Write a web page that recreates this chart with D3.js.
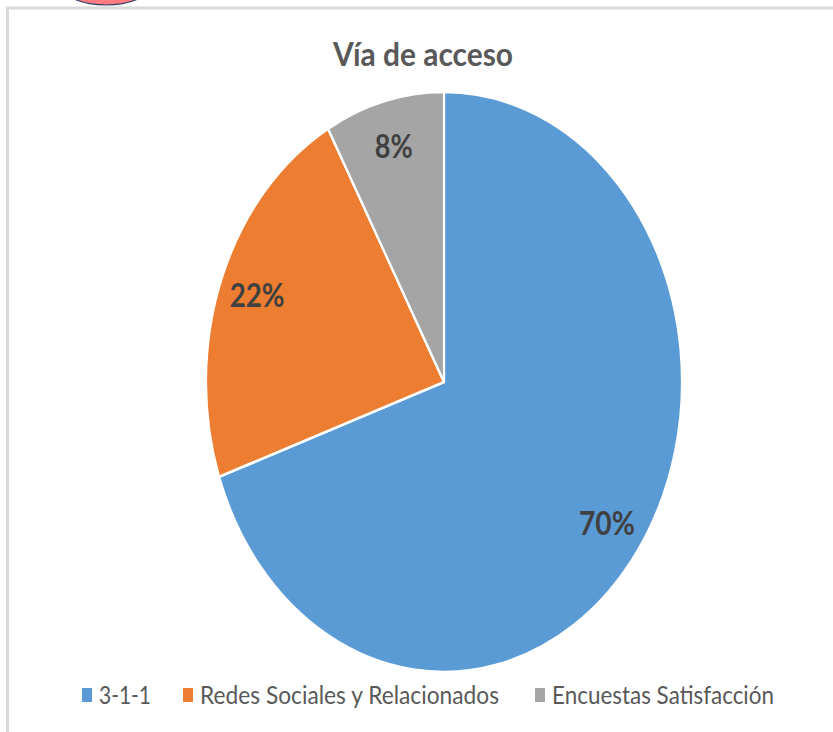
<!DOCTYPE html>
<html><head><meta charset="utf-8">
<script src="https://cdn.jsdelivr.net/npm/d3@7"></script>
<style>html,body{margin:0;padding:0;background:#fff;overflow:hidden}</style>
</head><body>
<svg id="c" width="833" height="732"></svg>
<script>
const title = "Vía de acceso";
const categories = ["3-1-1", "Redes Sociales y Relacionados", "Encuestas Satisfacción"];
const values = [69.7, 22.2, 8.1];
const labels = ["70%", "22%", "8%"];
const colors = ["#5B9BD5", "#ED7D31", "#A5A5A5"];

const W = 833, H = 732;
const k = 290 / 238; // vertical stretch of the picture
const FONT = "Lato, 'Open Sans', 'Liberation Sans', sans-serif";
const svg = d3.select("#c");

svg.append("rect").attr("x", 0).attr("y", 0).attr("width", W).attr("height", H).attr("fill", "#fff");
// chart area border (extends off right/bottom)
svg.append("rect").attr("x", 7.5).attr("y", 8).attr("width", W + 20).attr("height", H + 20)
  .attr("fill", "#fff").attr("stroke", "#D9D9D9").attr("stroke-width", 3);
// partial red shape at top
svg.append("ellipse").attr("cx", 106).attr("cy", -20).attr("rx", 49).attr("ry", 25)
  .attr("fill", "#FF7C80").attr("stroke", "#2E3F66").attr("stroke-width", 1.2);

// title
svg.append("text").attr("transform", `translate(423,66) scale(1,${k * 1.04})`)
  .attr("text-anchor", "middle").attr("font-family", FONT).attr("font-weight", "bold")
  .attr("font-size", 26).attr("fill", "#595959")
  .attr("textLength", 180).attr("lengthAdjust", "spacingAndGlyphs").text(title);

// pie
const R = 238;
const g = svg.append("g").attr("transform", `translate(444,382) scale(1,${k})`);
const pie = d3.pie().sort(null).value(d => d)(values);
const arc = d3.arc().innerRadius(0).outerRadius(R);
g.selectAll("path").data(pie).join("path")
  .attr("d", arc).attr("fill", (d, i) => colors[i])
  .attr("stroke", "#fff").attr("stroke-width", 2.2).attr("stroke-linejoin", "round");

const labelArc = d3.arc().innerRadius(200).outerRadius(200);
const labelW = [56, 55, 38];
g.selectAll("text.lbl").data(pie).join("text").attr("class", "lbl")
  .attr("transform", d => { const c = labelArc.centroid(d); return `translate(${c[0]},${c[1]})`; })
  .attr("text-anchor", "middle").attr("dy", "0.36em")
  .attr("font-family", FONT).attr("font-weight", "bold").attr("font-size", 26)
  .attr("fill", "#404040")
  .attr("textLength", (d, i) => labelW[i]).attr("lengthAdjust", "spacingAndGlyphs")
  .text((d, i) => labels[i]);

// legend
const legendX = [82, 183, 535];
const legendW = [52, 299, 222];
const lg = svg.append("g");
categories.forEach((c, i) => {
  lg.append("rect").attr("x", legendX[i]).attr("y", 688).attr("width", 10).attr("height", 14)
    .attr("fill", colors[i]);
  lg.append("text").attr("transform", `translate(${legendX[i] + 17},704) scale(1,${k})`)
    .attr("font-family", FONT).attr("font-size", 21).attr("fill", "#595959")
    .attr("textLength", legendW[i]).attr("lengthAdjust", "spacingAndGlyphs").text(c);
});
</script>
</body></html>
